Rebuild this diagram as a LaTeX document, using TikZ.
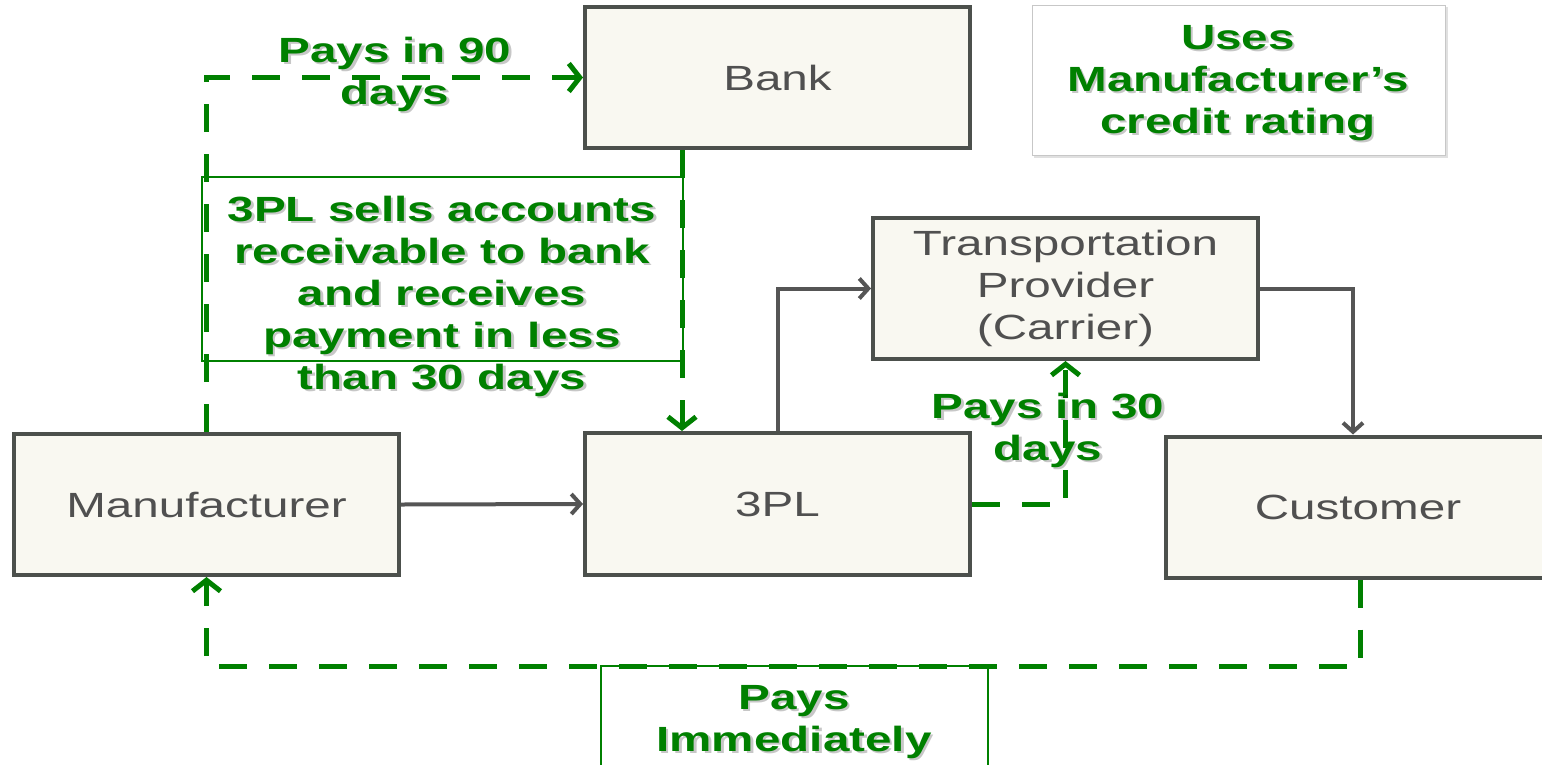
\documentclass[tikz,border=0pt]{standalone}
\usepackage{fontspec}
\usetikzlibrary{arrows.meta}
\newfontfamily\labfont[FakeStretch=1.36]{Liberation Sans}
\definecolor{boxfill}{HTML}{F9F8F1}
\definecolor{boxline}{HTML}{4C504C}
\definecolor{labgray}{HTML}{505050}
\definecolor{paygreen}{HTML}{008000}
\definecolor{connray}{HTML}{555555}
\tikzset{
  flowbox/.style={draw=boxline, line width=4pt, fill=boxfill, minimum width=385pt, minimum height=141pt, inner sep=0pt,
    font=\labfont\fontsize{35}{42}\selectfont, text=labgray, align=center},
  paylabel/.style={font=\labfont\bfseries\fontsize{35}{42}\selectfont, text=paygreen, align=center, inner sep=0pt},
  labshadow/.style={paylabel, text=black, opacity=0.22, xshift=2.5pt, yshift=-2.5pt},
  labframe/.style={draw=paygreen, line width=1.6pt, inner sep=0pt},
  pay/.style={draw=paygreen, line width=5pt, dash pattern=on 28pt off 22pt, -{Straight Barb[length=11pt,width=28pt,line width=5pt]}},
  flow/.style={draw=connray, line width=4pt, -{Straight Barb[length=9pt,width=20pt,line width=4pt]}}
}
\newcommand\greenlabel[3]{%
  \node[labshadow] at (#2) {#3};
  \node[paylabel] (#1) at (#2) {#3};}
\begin{document}
\begin{tikzpicture}[x=1pt,y=-1pt]
\useasboundingbox (0,0) rectangle (1542,764);
\clip (0,0) rectangle (1542,764);
\fill[white] (0,0) rectangle (1542,764);

% boxes
\node[flowbox] (bank) at (777.5,77.5) {Bank};
\node[flowbox] (man) at (206.5,504.5) {Manufacturer};
\node[flowbox, minimum height=142pt] (tpl) at (777.5,504) {3PL};
\node[flowbox] (trans) at (1065.5,288.5) {Transportation\\Provider\\(Carrier)};
\node[flowbox, minimum width=384pt] (cust) at (1358,507) {Customer};

% credit rating note
\fill[black!12] (1034,7) rectangle (1448,158);
\node[draw=black!22, line width=1pt, fill=white, minimum width=413pt, minimum height=150pt, inner sep=0pt] (note) at (1238.5,80) {};

% label frames
\node[labframe, minimum width=481pt, minimum height=184pt] (sellframe) at (442.5,269) {};
\node[labframe, minimum width=387pt, minimum height=120pt] (immframe) at (794.5,726) {};

% connectors
\coordinate (ybot) at (0,666);
\draw[pay] (man.north) |- (bank.west);
\draw[pay] ([xshift=-95.5pt]bank.south) -- ([xshift=-95.5pt]tpl.north);
\draw[pay] (tpl.east) -| (trans.south);
\draw[pay] ([xshift=2pt]cust.south) |- (man.south |- ybot) -- (man.south);
\draw[flow] (man.east) -- (tpl.west);
\draw[flow] (tpl.north) |- (trans.west);
\draw[flow] (trans.east) -| ([xshift=-5pt]cust.north);

% green labels
\greenlabel{notetext}{1238,83}{Uses\\Manufacturer’s\\credit rating}
\greenlabel{p90}{395,74}{Pays in 90\\days}
\greenlabel{sell}{442,296}{3PL sells accounts\\receivable to bank\\and receives\\payment in less\\than 30 days}
\greenlabel{p30}{1048,430}{Pays in 30\\days}
\greenlabel{pimm}{794,722}{Pays\\Immediately}
\end{tikzpicture}
\end{document}
